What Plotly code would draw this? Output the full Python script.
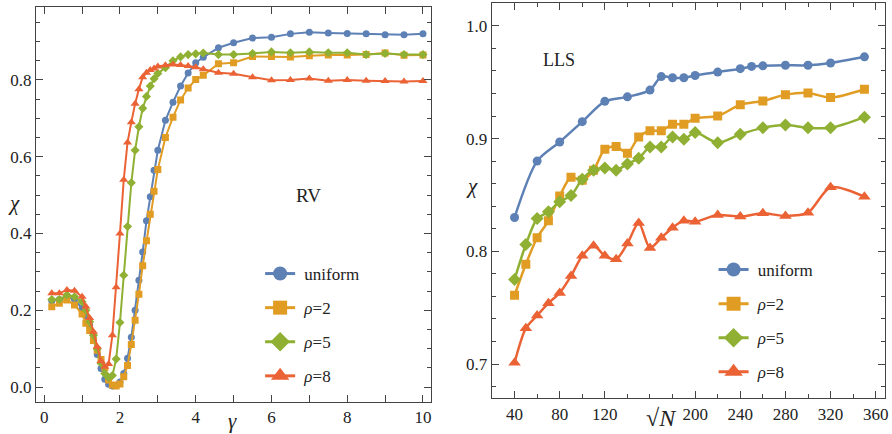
import plotly.graph_objects as go

# ---------------- Left panel (RV) data ----------------
gamma = [0.2, 0.4, 0.6, 0.8, 1.0, 1.1, 1.2, 1.3, 1.4, 1.5, 1.6, 1.7, 1.8, 1.9, 2.0,
         2.1, 2.2, 2.3, 2.4, 2.5, 2.6, 2.7, 2.8, 2.9, 3.0, 3.2, 3.4, 3.6, 3.8, 4.0,
         4.2, 4.6, 5.0, 5.5, 6.0, 6.5, 7.0, 7.5, 8.0, 8.5, 9.0, 9.5, 10.0]

rv_uniform = [0.225, 0.228, 0.235, 0.228, 0.205, 0.185, 0.160, 0.125, 0.085, 0.048,
              0.020, 0.007, 0.003, 0.004, 0.013, 0.035, 0.075, 0.130, 0.200, 0.278,
              0.352, 0.433, 0.496, 0.565, 0.617, 0.695, 0.742, 0.784, 0.818, 0.845,
              0.859, 0.884, 0.897, 0.909, 0.911, 0.920, 0.924, 0.922, 0.921, 0.920,
              0.918, 0.918, 0.920]
rv_rho2 = [0.209, 0.218, 0.227, 0.214, 0.190, 0.166, 0.147, 0.121, 0.096, 0.072,
           0.050, 0.018, 0.005, 0.003, 0.008, 0.027, 0.056, 0.111, 0.174, 0.242,
           0.316, 0.381, 0.450, 0.510, 0.567, 0.650, 0.703, 0.748, 0.779, 0.801,
           0.812, 0.842, 0.845, 0.861, 0.861, 0.860, 0.863, 0.865, 0.865, 0.866,
           0.870, 0.864, 0.865]
rv_rho5 = [0.228, 0.228, 0.240, 0.235, 0.222, 0.200, 0.170, 0.135, 0.100, 0.062,
           0.035, 0.025, 0.030, 0.073, 0.168, 0.291, 0.418, 0.532, 0.617, 0.678,
           0.726, 0.757, 0.784, 0.803, 0.817, 0.832, 0.850, 0.860, 0.866, 0.868,
           0.870, 0.866, 0.866, 0.869, 0.873, 0.871, 0.873, 0.871, 0.871, 0.866,
           0.869, 0.866, 0.866]
rv_rho8 = [0.244, 0.244, 0.253, 0.251, 0.235, 0.210, 0.180, 0.144, 0.105, 0.068,
           0.053, 0.060, 0.135, 0.260, 0.400, 0.540, 0.637, 0.690, 0.738, 0.776,
           0.807, 0.819, 0.826, 0.830, 0.835, 0.838, 0.840, 0.839, 0.836, 0.833,
           0.828, 0.819, 0.816, 0.807, 0.799, 0.800, 0.804, 0.798, 0.800, 0.798,
           0.797, 0.796, 0.797]

# ---------------- Right panel (LLS) data ----------------
sqrtN_uniform = [40, 60, 80, 100, 120, 140, 160, 170, 180, 190, 200, 220, 240, 250,
                 260, 280, 300, 320, 350]
lls_uniform = [0.830, 0.880, 0.897, 0.915, 0.933, 0.937, 0.943, 0.955, 0.954, 0.954,
               0.956, 0.959, 0.962, 0.964, 0.9645, 0.965, 0.965, 0.967, 0.9725]

sqrtN = [40, 50, 60, 70, 80, 90, 100, 110, 120, 130, 140, 150, 160, 170, 180, 190,
         200, 220, 240, 260, 280, 300, 320, 350]
lls_rho2 = [0.761, 0.7885, 0.812, 0.827, 0.849, 0.8657, 0.863, 0.872, 0.8905, 0.893,
            0.887, 0.9015, 0.907, 0.907, 0.9127, 0.9127, 0.918, 0.920, 0.930, 0.9334,
            0.9388, 0.9405, 0.9364, 0.9438]
lls_rho5 = [0.775, 0.806, 0.829, 0.835, 0.844, 0.8494, 0.864, 0.872, 0.874, 0.872,
            0.8775, 0.8825, 0.8926, 0.8926, 0.9015, 0.8994, 0.9053, 0.8964, 0.9038,
            0.9095, 0.912, 0.9095, 0.9095, 0.919]
lls_rho8 = [0.7012, 0.7317, 0.743, 0.754, 0.763, 0.778, 0.796, 0.805, 0.796, 0.793,
            0.807, 0.825, 0.803, 0.812, 0.821, 0.8272, 0.8263, 0.8322, 0.8308, 0.8337,
            0.8314, 0.8343, 0.8568, 0.8485]

names = ["uniform", "<i>ρ</i>=2", "<i>ρ</i>=5", "<i>ρ</i>=8"]
colors = ["#5E81B5", "#E19C24", "#8FB032", "#EB6235"]
symbols = ["circle", "square", "diamond", "triangle-up"]

W, H = 892, 434
SERIF = "Liberation Serif"
TIMES = "Times New Roman"
FRAME = "#444444"
TXT = "#222222"

fig = go.Figure()

left_series = [rv_uniform, rv_rho2, rv_rho5, rv_rho8]
left_sizes = [7, 7, 7, 8]
for i, ys in enumerate(left_series):
    fig.add_trace(go.Scatter(
        x=gamma, y=ys, mode="lines+markers", xaxis="x", yaxis="y",
        line=dict(color=colors[i], width=2),
        marker=dict(color=colors[i], symbol=symbols[i], size=left_sizes[i]),
        showlegend=False))

right_series = [(sqrtN_uniform, lls_uniform), (sqrtN, lls_rho2),
                (sqrtN, lls_rho5), (sqrtN, lls_rho8)]
right_sizes = [9, 9, 10, 11]
for i, (xs, ys) in enumerate(right_series):
    fig.add_trace(go.Scatter(
        x=xs, y=ys, mode="lines+markers", xaxis="x2", yaxis="y2",
        line=dict(color=colors[i], width=2.5, shape="spline", smoothing=0.8),
        marker=dict(color=colors[i], symbol=symbols[i], size=right_sizes[i]),
        showlegend=False))

# legend entries (big markers as in the reference)
leg_sizes = [14, 14, 15, 16]
for legname, xa, ya in [("legend", "x", "y"), ("legend2", "x2", "y2")]:
    for i in range(4):
        fig.add_trace(go.Scatter(
            x=[None], y=[None], mode="lines+markers", xaxis=xa, yaxis=ya,
            name="\u00a0" + names[i], legend=legname, legendgroup=legname + str(i),
            line=dict(color=colors[i], width=3),
            marker=dict(color=colors[i], symbol=symbols[i], size=leg_sizes[i]),
            showlegend=True))

def ax_common():
    return dict(showline=True, mirror="ticks", linecolor=FRAME, linewidth=1,
                ticks="inside", ticklen=7, tickwidth=1, tickcolor=FRAME,
                showgrid=False, zeroline=False,
                tickfont=dict(family=TIMES, size=17, color=TXT))

xl = ax_common()
xl.update(domain=[36 / W, 432 / W], range=[-0.22, 10.2], anchor="y",
          tickvals=[0, 2, 4, 6, 8, 10],
          minor=dict(tickvals=[1, 3, 5, 7, 9], ticklen=7, tickcolor=FRAME, ticks="inside"))
yl = ax_common()
yl.update(domain=[(H - 402) / H, (H - 7) / H], range=[-0.039, 0.99], anchor="x",
          tickvals=[0, 0.2, 0.4, 0.6, 0.8], ticktext=["0.0", "0.2", "0.4", "0.6", "0.8"],
          minor=dict(dtick=0.05, tick0=0, ticklen=4, tickcolor=FRAME, ticks="inside"))
xr = ax_common()
xr.update(domain=[493.3 / W, 888.3 / W], range=[19.7, 368.5], anchor="y2",
          tickvals=[40, 80, 120, 200, 240, 280, 320, 360],
          minor=dict(dtick=20, tick0=0, ticklen=4, tickcolor=FRAME, ticks="inside"))
yr = ax_common()
yr.update(domain=[(H - 398.3) / H, (H - 3.3) / H], range=[0.6696, 1.02], anchor="x2",
          tickvals=[0.7, 0.8, 0.9, 1.0], ticktext=["0.7", "0.8", "0.9", "1.0"],
          minor=dict(dtick=0.02, tick0=0, ticklen=4, tickcolor=FRAME, ticks="inside"))

leg_common = dict(font=dict(family=TIMES, size=17, color=TXT),
                  bgcolor="rgba(0,0,0,0)", traceorder="grouped",
                  tracegroupgap=9, itemsizing="trace",
                  xanchor="left", yanchor="top")


def label(text, px, py, size, family=SERIF):
    return dict(text=text, x=px / W, y=1 - py / H, xref="paper", yref="paper",
                xanchor="center", yanchor="middle", showarrow=False,
                font=dict(family=family, size=size, color=TXT))


fig.update_layout(
    width=W, height=H, margin=dict(l=0, r=0, t=0, b=0),
    font=dict(family=SERIF, size=17, color=TXT),
    paper_bgcolor="white", plot_bgcolor="white",
    xaxis=xl, yaxis=yl, xaxis2=xr, yaxis2=yr,
    legend=dict(x=261 / W, y=1 - 256 / H, **leg_common),
    legend2=dict(x=716 / W, y=1 - 252 / H, **leg_common),
    annotations=[
        label("RV", 310, 195, 19),
        label("LLS", 561, 60, 18),
        label("<i>χ</i>", 14, 203, 21, TIMES),
        label("<i>γ</i>", 233, 421, 21, TIMES),
        label("<i>χ</i>", 474, 186, 21, TIMES),
        label("√<i>N</i>", 664, 418, 24, TIMES),
    ],
)

fig.write_html("out.html")
